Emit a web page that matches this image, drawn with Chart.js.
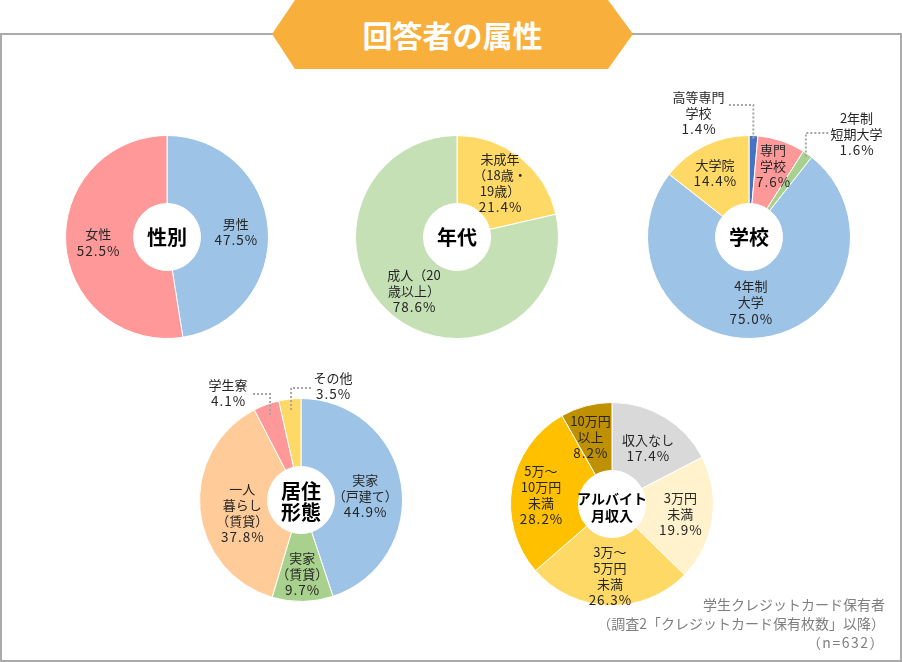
<!DOCTYPE html>
<html lang="ja">
<head>
<meta charset="utf-8">
<script src="https://cdn.jsdelivr.net/npm/chart.js@4.4.1/dist/chart.umd.min.js"></script>
<style>
  html, body { margin: 0; padding: 0; background: #fff; }
  body { width: 902px; height: 662px; position: relative; overflow: hidden; font-family: "Noto Sans CJK JP", sans-serif; }
  #frame { position: absolute; left: 0; top: 33px; width: 898px; height: 625px; border: 2px solid #ababab; }
  #banner { position: absolute; left: 272px; top: 0; width: 361px; height: 69px; background: #f9af3b;
            clip-path: polygon(23px 0, 336px 0, 361px 34px, 336px 69px, 23px 69px, 0 34px);
            color: #fff; font-weight: bold; font-size: 30px; text-align: center; line-height: 69px; }
  canvas { position: absolute; }
  #note { position: absolute; right: 17px; top: 595px; text-align: right; color: #7f7f7f; font-size: 14px; line-height: 19px; }
  #note .num { letter-spacing: 1.5px; }
</style>
</head>
<body>
<div id="frame"></div>
<div id="banner">回答者の属性</div>
<canvas id="gender" width="300" height="300"></canvas>
<canvas id="age" width="300" height="300"></canvas>
<canvas id="school" width="300" height="300"></canvas>
<canvas id="home" width="300" height="300"></canvas>
<canvas id="income" width="300" height="300"></canvas>
<div id="note">学生クレジットカード保有者<br>（調査2「クレジットカード保有枚数」以降）<br><span class="num">（n=632）</span></div>
<script>
// データ
const genderLabels = ['男性', '女性'];
const genderValues = [47.5, 52.5];

const ageLabels = ['未成年\n（18歳・\n19歳）', '成人（20\n歳以上）'];
const ageValues = [21.4, 78.6];

const schoolLabels = ['高等専門\n学校', '専門\n学校', '2年制\n短期大学', '4年制\n大学', '大学院'];
const schoolValues = [1.4, 7.6, 1.6, 75.0, 14.4];

const homeLabels = ['実家\n（戸建て）', '実家\n（賃貸）', '一人\n暮らし\n（賃貸）', '学生寮', 'その他'];
const homeValues = [44.9, 9.7, 37.8, 4.1, 3.5];

const incomeLabels = ['収入なし', '3万円\n未満', '3万～\n5万円\n未満', '5万～\n10万円\n未満', '10万円\n以上'];
const incomeValues = [17.4, 19.9, 26.3, 28.2, 8.2];

// ラベル描画プラグイン
const sliceLabels = {
  id: 'sliceLabels',
  afterDatasetsDraw(chart, args, opts) {
    const ctx = chart.ctx;
    const meta = chart.getDatasetMeta(0);
    const values = chart.data.datasets[0].data;
    const names = chart.data.labels;
    ctx.save();
    ctx.textAlign = 'center';
    ctx.textBaseline = 'middle';
    let cx = 0, cy = 0;
    meta.data.forEach((arc, i) => {
      const p = arc.getProps(['x', 'y', 'startAngle', 'endAngle', 'outerRadius'], true);
      cx = p.x; cy = p.y;
      const mid = (p.startAngle + p.endAngle) / 2;
      const pl = (opts.place && opts.place[i]) || {};
      const lines = names[i].split('\n').concat(values[i].toFixed(1) + '%');
      let lx, ly;
      if (pl.out) {
        lx = p.x + pl.out[0];
        ly = p.y + pl.out[1];
        // 引き出し線
        const ar = p.outerRadius - (pl.ar || 3);
        const ax = p.x + Math.cos(mid) * ar;
        const ay = p.y + Math.sin(mid) * ar;
        ctx.strokeStyle = '#a6a6a6';
        ctx.lineWidth = 2;
        ctx.setLineDash([2, 2]);
        ctx.beginPath();
        ctx.moveTo(ax, ay);
        ctx.lineTo(ax, ly + pl.lineDy);
        ctx.lineTo(lx + pl.lineDx, ly + pl.lineDy);
        ctx.stroke();
        ctx.setLineDash([]);
      } else {
        const r = p.outerRadius * (pl.r || opts.r);
        lx = p.x + Math.cos(mid) * r + (pl.dx || 0);
        ly = p.y + Math.sin(mid) * r + (pl.dy || 0);
      }
      ctx.fillStyle = '#262626';
      const lh = 16;
      lines.forEach((t, k) => {
        const isPct = k === lines.length - 1;
        ctx.font = (isPct ? '13.5px' : '13px') + ' "Noto Sans CJK JP"';
        ctx.letterSpacing = isPct ? '1px' : '0px';
        ctx.fillText(t, lx + (isPct ? 0.5 : 0), ly + (k - (lines.length - 1) / 2) * lh);
      });
      ctx.letterSpacing = '0px';
    });
    // 中央タイトル
    ctx.font = 'bold ' + opts.titleSize + 'px "Noto Sans CJK JP"';
    ctx.fillStyle = '#000';
    const tl = opts.title;
    tl.forEach((t, k) => ctx.fillText(t, cx, cy + (opts.titleDy || 0) + (k - (tl.length - 1) / 2) * opts.titleLh));
    ctx.restore();
  }
};

function makeDonut(id, left, top, labels, values, colors, labelOpts) {
  const el = document.getElementById(id);
  el.style.left = (left - 150) + 'px';
  el.style.top = (top - 150) + 'px';
  return new Chart(el, {
    type: 'doughnut',
    data: {
      labels: labels,
      datasets: [{
        data: values,
        backgroundColor: colors,
        borderColor: '#ffffff',
        borderWidth: 1
      }]
    },
    options: {
      responsive: false,
      animation: false,
      cutout: '33%',
      layout: { padding: 48 },
      plugins: {
        legend: { display: false },
        tooltip: { enabled: false },
        sliceLabels: labelOpts
      }
    },
    plugins: [sliceLabels]
  });
}

makeDonut('gender', 166.5, 237, genderLabels, genderValues,
  ['#9dc3e6', '#ff9999'],
  { r: 0.68, title: ['性別'], titleSize: 20, titleLh: 22 });

makeDonut('age', 456.5, 237, ageLabels, ageValues,
  ['#ffd966', '#c5e0b4'],
  { r: 0.68, title: ['年代'], titleSize: 20, titleLh: 22 });

makeDonut('school', 748.5, 237, schoolLabels, schoolValues,
  ['#4472c4', '#ff9999', '#a9d18e', '#9dc3e6', '#ffd966'],
  { r: 0.68, title: ['学校'], titleSize: 20, titleLh: 22,
    place: [
      { out: [-50.5, -124], lineDy: -8, lineDx: 30, ar: 3 },
      { r: 0.74 },
      { out: [107.5, -103], lineDy: -1, lineDx: -28, ar: 3 },
      { r: 0.65, dx: -6 },
      { r: 0.7, dx: -3 }
    ] });

makeDonut('home', 301, 500, homeLabels, homeValues,
  ['#9dc3e6', '#a9d18e', '#ffcc99', '#ff9999', '#ffd966'],
  { r: 0.64, title: ['居住', '形態'], titleSize: 20, titleLh: 21, titleDy: 2,
    place: [
      { r: 0.64, dy: 6 },
      { r: 0.73 },
      { r: 0.6, dx: 2, dy: 7 },
      { out: [-73, -107], lineDy: 1, lineDx: 24, ar: 11 },
      { out: [32, -114], lineDy: 2, lineDx: -21, ar: 11 }
    ] });

makeDonut('income', 611.5, 503.5, incomeLabels, incomeValues,
  ['#d9d9d9', '#fff2cc', '#ffd966', '#ffc000', '#bf9000'],
  { r: 0.68, title: ['アルバイト', '月収入'], titleSize: 14, titleLh: 17, titleDy: 3,
    place: [
      { r: 0.68, dy: 3 },
      { r: 0.68 },
      { r: 0.71 },
      { r: 0.71, dy: 3 },
      { r: 0.68, dx: -4 }
    ] });
</script>
</body>
</html>
